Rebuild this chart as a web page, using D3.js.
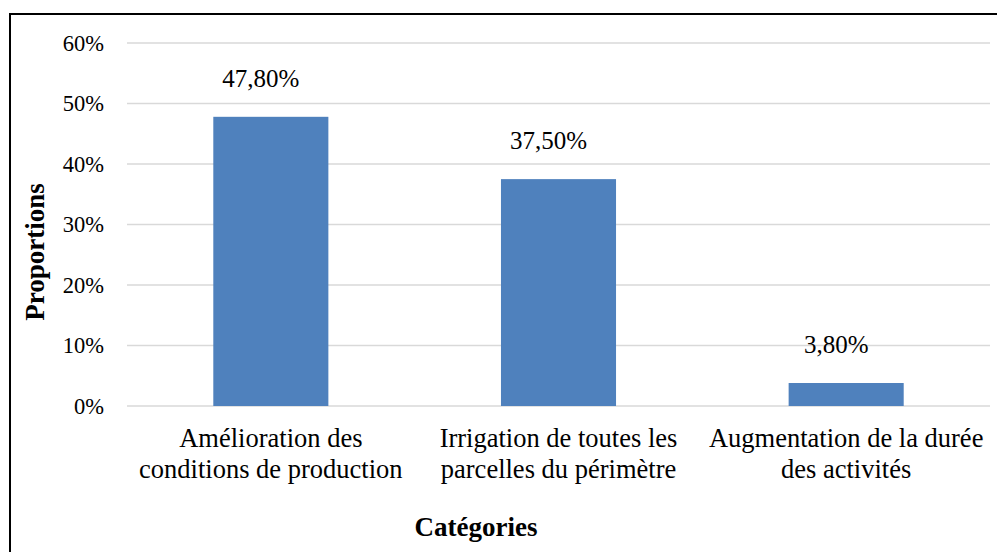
<!DOCTYPE html>
<html>
<head>
<meta charset="utf-8">
<script src="https://cdn.jsdelivr.net/npm/d3@7"></script>
<style>
  html, body { margin: 0; padding: 0; background: #fff; }
  svg { display: block; }
</style>
</head>
<body>
<svg id="chart" width="997" height="552"></svg>
<script>
// Categories (each split into its two display lines) and their proportions
const categories = [
  "Amélioration des conditions de production",
  "Irrigation de toutes les parcelles du périmètre",
  "Augmentation de la durée des activités"
];
const categoryLines = [
  ["Amélioration des", "conditions de production"],
  ["Irrigation de toutes les", "parcelles du périmètre"],
  ["Augmentation de la durée", "des activités"]
];
const proportions = [0.478, 0.375, 0.038];
const valueLabels = ["47,80%", "37,50%", "3,80%"];
const yTicks = [0, 0.1, 0.2, 0.3, 0.4, 0.5, 0.6];
const yTickLabels = ["0%", "10%", "20%", "30%", "40%", "50%", "60%"];

const FONT = "Liberation Serif";

const svg = d3.select("#chart");

// outer frame (runs off the right and bottom edges)
svg.append("rect")
  .attr("x", 10).attr("y", 14)
  .attr("width", 1000).attr("height", 560)
  .attr("fill", "none").attr("stroke", "#000").attr("stroke-width", 2);

const plot = { left: 127, right: 990, top: 43, bottom: 406 };

const x = d3.scaleBand()
  .domain(categories)
  .range([plot.left, plot.right])
  .paddingInner(0.6)
  .paddingOuter(0.3);

const y = d3.scaleLinear()
  .domain([0, 0.6])
  .range([plot.bottom, plot.top]);

// horizontal gridlines
svg.append("g")
  .selectAll("line")
  .data(yTicks)
  .join("line")
  .attr("x1", plot.left).attr("x2", plot.right)
  .attr("y1", d => y(d)).attr("y2", d => y(d))
  .attr("stroke", "#d9d9d9").attr("stroke-width", 1.5);

// y axis tick labels
const yAxis = d3.axisLeft(y)
  .tickValues(yTicks)
  .tickFormat((d, i) => yTickLabels[i])
  .tickSize(0)
  .tickPadding(23);
const gy = svg.append("g")
  .attr("transform", `translate(${plot.left},0)`)
  .call(yAxis)
  .attr("font-family", null)
  .attr("font-size", null);
gy.select(".domain").remove();
gy.selectAll("text")
  .style("font-family", FONT)
  .style("font-size", "22.5px")
  .attr("fill", "#000");

// bars
svg.append("g")
  .selectAll("rect")
  .data(categories)
  .join("rect")
  .attr("x", d => x(d))
  .attr("width", x.bandwidth())
  .attr("y", (d, i) => y(proportions[i]))
  .attr("height", (d, i) => y(0) - y(proportions[i]))
  .attr("fill", "#4f81bd");

// value labels above the bars
svg.append("g")
  .selectAll("text")
  .data(categories)
  .join("text")
  .attr("x", d => x(d) + x.bandwidth() / 2 - 10)
  .attr("y", (d, i) => y(proportions[i]) - 30)
  .attr("text-anchor", "middle")
  .style("font-family", FONT)
  .style("font-size", "25px")
  .attr("fill", "#000")
  .text((d, i) => valueLabels[i]);

// category labels (two lines each)
const cat = svg.append("g")
  .selectAll("text")
  .data(categories)
  .join("text")
  .attr("text-anchor", "middle")
  .style("font-family", FONT)
  .style("font-size", "26.5px")
  .attr("fill", "#000");
cat.selectAll("tspan")
  .data((d, i) => categoryLines[i].map(t => ({ t, c: d })))
  .join("tspan")
  .attr("x", d => x(d.c) + x.bandwidth() / 2)
  .attr("y", (d, j) => plot.bottom + 41 + j * 31)
  .text(d => d.t);

// axis titles
svg.append("text")
  .attr("x", 476).attr("y", 536)
  .attr("text-anchor", "middle")
  .style("font-family", FONT)
  .style("font-size", "27px").style("font-weight", "bold")
  .attr("fill", "#000")
  .text("Catégories");

svg.append("text")
  .attr("transform", "translate(44,252) rotate(-90)")
  .attr("text-anchor", "middle")
  .style("font-family", FONT)
  .style("font-size", "27px").style("font-weight", "bold")
  .attr("fill", "#000")
  .text("Proportions");
</script>
</body>
</html>
